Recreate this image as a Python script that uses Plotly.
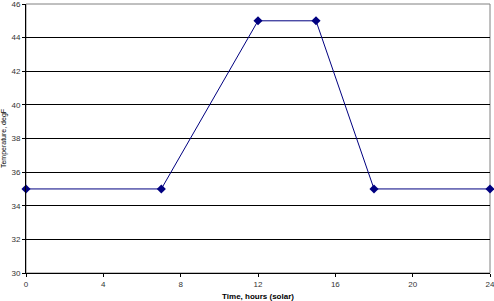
import plotly.graph_objects as go

hours = [0, 7, 12, 15, 18, 24]
temps = [35, 35, 45, 45, 35, 35]
x_ticks = [0, 4, 8, 12, 16, 20, 24]
y_ticks = [30, 32, 34, 36, 38, 40, 42, 44, 46]

fig = go.Figure()
fig.add_trace(go.Scatter(
    x=hours, y=temps, mode="lines+markers",
    line=dict(color="#000080", width=1),
    marker=dict(symbol="diamond", size=7, color="#000080"),
    cliponaxis=False,
))

fig.update_layout(
    width=494, height=301,
    margin=dict(l=26, r=4, t=4, b=28, autoexpand=False),
    paper_bgcolor="white", plot_bgcolor="white",
    showlegend=False,
    font=dict(family="Arial, Liberation Sans", size=8, color="#000000"),
    shapes=[dict(type="rect", xref="paper", yref="paper", x0=0, x1=1, y0=0, y1=1,
                 line=dict(color="#808080", width=1), layer="below")],
)
fig.update_xaxes(
    range=[0, 24], tickvals=x_ticks, ticks="outside", ticklen=3, tickcolor="black",
    showline=True, linecolor="black", linewidth=1, showgrid=False, zeroline=False,
    ticklabeloverflow="allow", automargin=False,
    title=dict(text="<b>Time, hours (solar)</b>", font=dict(size=8), standoff=6),
    tickfont=dict(size=8, color="#333333"),
)
fig.update_yaxes(
    range=[30, 46], tickvals=y_ticks, ticks="outside", ticklen=3, tickcolor="black",
    showline=True, linecolor="black", linewidth=1, showgrid=True, gridcolor="black",
    gridwidth=1, zeroline=False,
    ticklabeloverflow="allow", automargin=False,
    title=dict(text="Temperature, degF", font=dict(size=7), standoff=4),
    tickfont=dict(size=8, color="#333333"),
)
fig.write_html("out.html")
